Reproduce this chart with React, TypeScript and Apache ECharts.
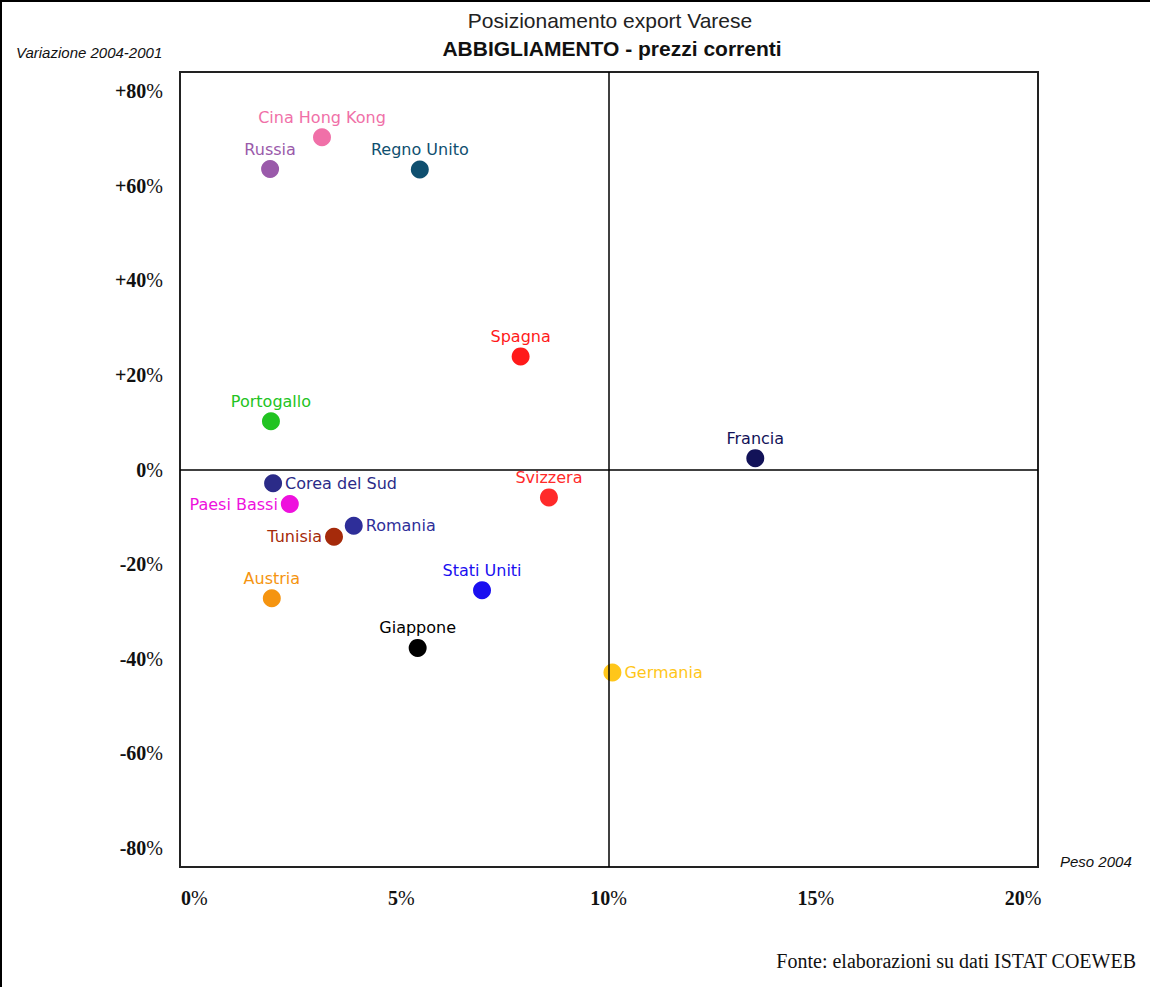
import React, { useEffect, useRef } from "react";
import * as echarts from "echarts";

// ---- data ----
const countries = [
  "Cina Hong Kong", "Russia", "Regno Unito", "Spagna", "Portogallo", "Francia",
  "Corea del Sud", "Svizzera", "Paesi Bassi", "Romania", "Tunisia",
  "Stati Uniti", "Austria", "Giappone", "Germania",
];
// Peso 2004 (%)
const peso2004 = [3.31, 2.1, 5.59, 7.94, 2.12, 13.41, 2.17, 8.6, 2.56, 4.05, 3.59, 7.04, 2.14, 5.54, 10.08];
// Variazione 2004-2001 (%)
const variazione = [70.2, 63.5, 63.4, 23.9, 10.2, 2.4, -2.9, -5.9, -7.3, -11.9, -14.2, -25.5, -27.2, -37.7, -42.9];
const xTickValues = [0, 5, 10, 15, 20];
const yTickValues = [-80, -60, -40, -20, 0, 20, 40, 60, 80];

// ---- styles ----
const pointColors: Record<string, string> = {
  "Cina Hong Kong": "#f070a8",
  Russia: "#9a5aaa",
  "Regno Unito": "#0f4f6f",
  Spagna: "#ff1a1a",
  Portogallo: "#22c322",
  Francia: "#121258",
  "Corea del Sud": "#2b2b88",
  Svizzera: "#ff2a2a",
  "Paesi Bassi": "#ee11dd",
  Romania: "#2e2e99",
  Tunisia: "#a52a0a",
  "Stati Uniti": "#1a0ff0",
  Austria: "#f59410",
  Giappone: "#000000",
  Germania: "#ffc61a",
};
const labelSide: Record<string, string> = {
  "Corea del Sud": "right",
  Romania: "right",
  Germania: "right",
  "Paesi Bassi": "left",
  Tunisia: "left",
};

const fmtY = (v: number) => {
  const s = v > 0 ? "+" + v : String(v);
  return `{b|${s}}{n|%}`;
};
const fmtX = (v: number) => `{b|${v}}{n|%}`;

const serifRich = {
  b: { fontFamily: "Liberation Serif", fontWeight: "bold", fontSize: 20, color: "#111" },
  n: { fontFamily: "Liberation Serif", fontWeight: "normal", fontSize: 20, color: "#111" },
};

export default function App() {
  const ref = useRef<HTMLDivElement>(null);
  useEffect(() => {
    if (!ref.current) return;
    const chart = echarts.init(ref.current, undefined, { renderer: "svg" });
    const data = countries.map((name, i) => ({
      name,
      value: [peso2004[i], variazione[i]],
      itemStyle: { color: pointColors[name], opacity: 1 },
      label: { position: labelSide[name] || "top", color: pointColors[name] },
    }));
    chart.setOption({
      animation: false,
      backgroundColor: "#ffffff",
      grid: {
        left: 180,
        top: 72,
        width: 858,
        height: 795,
        show: true,
        borderColor: "#222",
        borderWidth: 2,
        backgroundColor: "transparent",
      },
      xAxis: [
        {
          type: "value",
          min: 0,
          max: 20,
          axisLine: { show: false },
          axisTick: { show: false },
          splitLine: { show: false },
          axisLabel: { show: false },
        },
        {
          type: "value",
          position: "bottom",
          min: -0.343,
          max: 20.362,
          axisLine: { show: false },
          axisTick: { show: false },
          splitLine: { show: false },
          axisLabel: {
            customValues: xTickValues,
            formatter: fmtX,
            rich: serifRich,
            margin: 21,
          },
        },
      ],
      yAxis: {
        type: "value",
        min: -84,
        max: 84,
        axisLine: { show: false },
        axisTick: { show: false },
        splitLine: { show: false },
        axisLabel: {
          customValues: yTickValues,
          formatter: fmtY,
          rich: serifRich,
          margin: 17,
        },
      },
      series: [
        {
          type: "scatter",
          xAxisIndex: 0,
          z: 1,
          data: [],
          markLine: {
            silent: true,
            symbol: ["none", "none"],
            label: { show: false },
            lineStyle: { color: "#000", width: 1.5, type: "solid" },
            data: [{ xAxis: 10 }, { yAxis: 0 }],
          },
        },
        {
          type: "scatter",
          xAxisIndex: 0,
          z: 3,
          symbol: "circle",
          symbolSize: 18,
          data,
          label: {
            show: true,
            formatter: "{b}",
            distance: 3,
            fontFamily: "DejaVu Sans",
            fontSize: 16,
          },
          emphasis: { disabled: true },
        },
      ],
      graphic: [
        { type: "rect", shape: { x: 0, y: 0, width: 1150, height: 2 }, style: { fill: "#000" } },
        { type: "rect", shape: { x: 0, y: 0, width: 2, height: 987 }, style: { fill: "#000" } },
        {
          type: "text",
          x: 610,
          y: 20,
          style: {
            text: "Posizionamento export Varese",
            textAlign: "center",
            textVerticalAlign: "middle",
            fontFamily: "Liberation Sans",
            fontSize: 21,
            fill: "#222",
          },
        },
        {
          type: "text",
          x: 612,
          y: 48,
          style: {
            text: "ABBIGLIAMENTO - prezzi correnti",
            textAlign: "center",
            textVerticalAlign: "middle",
            fontFamily: "Liberation Sans",
            fontWeight: "bold",
            fontSize: 21,
            fill: "#111",
          },
        },
        {
          type: "text",
          x: 16,
          y: 52,
          style: {
            text: "Variazione 2004-2001",
            textVerticalAlign: "middle",
            fontFamily: "Liberation Sans",
            fontStyle: "italic",
            fontSize: 15,
            fill: "#111",
          },
        },
        {
          type: "text",
          x: 1060,
          y: 861,
          style: {
            text: "Peso 2004",
            textVerticalAlign: "middle",
            fontFamily: "Liberation Sans",
            fontStyle: "italic",
            fontSize: 15,
            fill: "#111",
          },
        },
        {
          type: "text",
          x: 1136,
          y: 961,
          style: {
            text: "Fonte: elaborazioni su dati ISTAT COEWEB",
            textAlign: "right",
            textVerticalAlign: "middle",
            fontFamily: "Liberation Serif",
            fontSize: 20,
            fill: "#111",
          },
        },
      ],
    });
    return () => chart.dispose();
  }, []);
  return (
    <div
      ref={ref}
      style={{ position: "absolute", left: 0, top: 0, width: 1150, height: 987 }}
    />
  );
}
